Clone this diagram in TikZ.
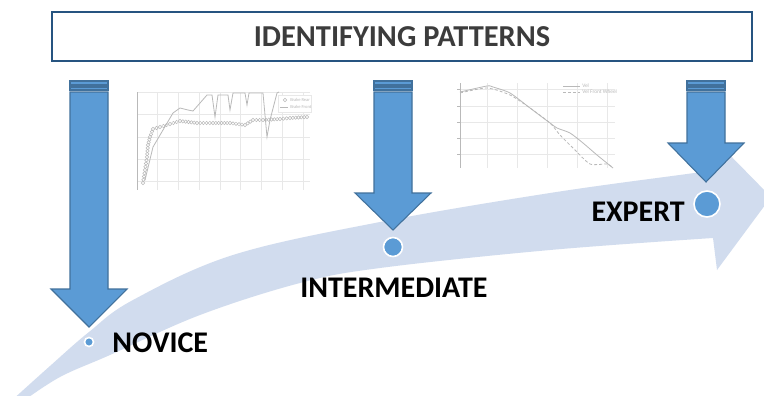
\documentclass[tikz,border=0pt]{standalone}
\usepackage{fontspec}
\setmainfont{Carlito}
\definecolor{arrowblue}{RGB}{91,155,213}
\definecolor{arrowedge}{RGB}{65,113,156}
\definecolor{bandblue}{RGB}{209,220,238}
\definecolor{titleedge}{RGB}{38,84,128}
\definecolor{titletext}{RGB}{60,60,60}
\definecolor{gridgray}{RGB}{232,232,232}
\definecolor{plotgray}{RGB}{185,185,185}

% striped down arrow: centre x, top y, head y, tip y
\newcommand\stripedarrow[4]{%
  \filldraw[arrowshape] (#1-19,#2) rectangle (#1+19,#2+4);
  \filldraw[arrowshape] (#1-19,#2+6) rectangle (#1+19,#2+9);
  \filldraw[arrowshape] (#1-19,#2+11) -- (#1+19,#2+11) -- (#1+19,#3)
    -- (#1+38,#3) -- (#1,#4) -- (#1-38,#3) -- (#1-19,#3) -- cycle;}

\begin{document}
\begin{tikzpicture}[x=0.75pt,y=-0.75pt,
  arrowshape/.style={fill=arrowblue,draw=arrowedge,line width=0.8pt,line join=miter},
  leveldot/.style={fill=arrowblue,draw=white,line width=1.2pt},
  levellabel/.style={font=\bfseries\fontsize{22.5}{25}\selectfont,text=black,inner sep=0pt},
  grid line/.style={draw=gridgray,line width=0.4pt},
  curve line/.style={draw=plotgray,line width=0.6pt},
  ring/.style={draw=plotgray,line width=0.35pt},
  legend text/.style={font=\fontsize{3.4}{4}\selectfont,text=plotgray,inner sep=0pt,anchor=west}
]
\useasboundingbox (0,0) rectangle (764,396);
\fill[white] (0,0) rectangle (764,396);

% sweeping progress arrow
\fill[bandblue]
  plot[smooth,tension=0.6] coordinates {(10,402) (50,366) (89,332) (133,300) (233,255) (380,222) (550,193) (687,174) (718,170)}
  -- (720,145) -- (771,197) -- (717,270)
  -- plot[smooth,tension=0.6] coordinates {(713,238) (550,250) (380,268) (300,283) (200,315) (110,355) (60,377) (22,402)}
  -- cycle;

% title banner
\node[draw=titleedge,line width=1.2pt,minimum width=525pt,minimum height=37pt,inner sep=0pt,
      font=\bfseries\fontsize{22.8}{25}\selectfont,text=titletext] (title) at (402,36.5) {IDENTIFYING PATTERNS};

% braking chart
\foreach \gx in {157,178,199,220,240,261,282,303}
  \draw[grid line] (\gx,92) -- (\gx,190);
\foreach \gy in {92,114,137,159,181}
  \draw[grid line] (137,\gy) -- (310,\gy);
\draw[plotgray,line width=0.4pt] (137,92) -- (137,190);
\draw[curve line] plot[sharp plot] coordinates {(145,180) (153,147) (163,130) (173,113) (180,108) (188,110) (193,111)
  (200,103) (207,95) (212,95) (215,117) (218,95) (228,95) (230,110) (233,93) (245,93) (247,105) (249,93)
  (263,93) (267,137) (270,120) (277,93) (279,92)};
% rear brake trace drawn as a run of ring markers
\draw[ring] (143,183) circle[radius=1.7];
\foreach \ax/\ay/\bx/\by/\n in {143/183/145/170/4, 145/170/147/157/4, 147/157/148/145/4, 148/145/150/137/3,
    150/137/153/129/3, 153/129/160/127/2, 160/127/170/124/3, 170/124/180/121/3, 180/121/197/123/6,
    197/123/213/123/5, 213/123/230/123/6, 230/123/245/125/5, 245/125/253/120/3, 253/120/263/120/3,
    263/120/280/119/6, 280/119/290/118/3, 290/118/307/117/6}
  \foreach \i in {1,...,\n}
    \draw[ring] ({\ax+(\bx-\ax)*\i/\n},{\ay+(\by-\ay)*\i/\n}) circle[radius=1.7];
\draw[fill=white,draw=gridgray,line width=0.4pt] (278,95) rectangle (311,112);
\draw[ring] (285,100) circle[radius=1.7];
\node[legend text] (legA) at (290,100) {Brake Rear};
\draw[curve line] (280,107) -- (288,107);
\node[legend text] (legB) at (290,107) {Brake Front};

% speed chart
\foreach \gx in {487,517,547,577,607}
  \draw[grid line] (\gx,83) -- (\gx,168);
\foreach \gy in {89,106,122,138,154}
  \draw[grid line] (460,\gy) -- (615,\gy);
\draw[plotgray,line width=0.4pt] (460,83) -- (460,168);
\foreach \gy in {89,106,122,138,154}
  \draw[plotgray,line width=0.4pt] (457,\gy) -- (460,\gy);
\draw[curve line] plot[smooth,tension=0.4] coordinates {(460,92) (487,86) (493,87) (510,93) (530,108) (550,123)
  (557,128) (570,133) (583,143) (597,155) (613,168)};
\draw[curve line,dash pattern=on 2.2pt off 1.6pt] plot[smooth,tension=0.4] coordinates {(460,93) (487,88) (510,95)
  (530,108) (550,123) (560,135) (573,148) (590,164) (607,164) (613,168)};
\draw[curve line] (563,86) -- (580,86);
\node[legend text,font=\fontsize{4}{5}\selectfont] (legC) at (582,86) {Vel};
\draw[curve line,dash pattern=on 2.2pt off 1.6pt] (563,92) -- (580,92);
\node[legend text,font=\fontsize{4}{5}\selectfont] (legD) at (582,92) {Vel Front Wheel};

% down arrows
\stripedarrow{89}{81}{289}{327}
\stripedarrow{393}{81}{193}{230}
\stripedarrow{706}{81}{143}{182}

% level markers
\filldraw[leveldot] (89,342) circle[radius=4.5];
\filldraw[leveldot] (393,247) circle[radius=9.5];
\filldraw[leveldot] (707,204) circle[radius=13];

\node[levellabel,anchor=west] (novice) at (112,343) {NOVICE};
\node[levellabel,anchor=west] (inter) at (300,288) {INTERMEDIATE};
\node[levellabel,anchor=east] (expert) at (685,212) {EXPERT};
\end{tikzpicture}
\end{document}
